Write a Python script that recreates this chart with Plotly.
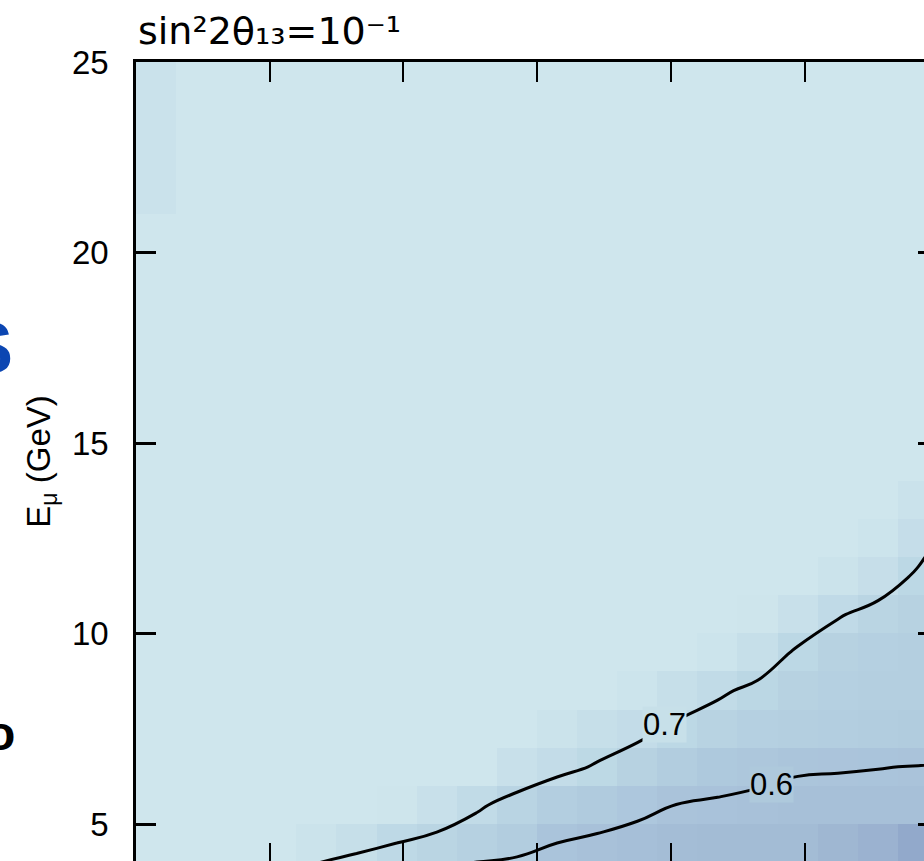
import plotly.graph_objects as go

# ---- data ----
# bin centres: x bins of width 0.3 (axis units per major tick = 1), y bins of 1 GeV
x_centers = [0.15, 0.45, 0.75, 1.05, 1.35, 1.65, 1.95, 2.25, 2.55, 2.85, 3.15,
             3.45, 3.75, 4.05, 4.35, 4.65, 4.95, 5.25, 5.55, 5.85, 6.15]
y_centers = [3.5, 4.5, 5.5, 6.5, 7.5, 8.5, 9.5, 10.5, 11.5, 12.5, 13.5,
             14.5, 15.5, 16.5, 17.5, 18.5, 19.5, 20.5, 21.5, 22.5, 23.5, 24.5]

B = 0.80
row_3  = [0.76, 0.74, 0.71, 0.69, 0.64, 0.595, 0.57, 0.55, 0.54, 0.53, 0.52, 0.51, 0.50, 0.50, 0.50, 0.50, 0.50, 0.49, 0.48, 0.46, 0.45]
row_4  = [B, B, B, B, 0.77, 0.74, 0.70, 0.68, 0.66, 0.64, 0.60, 0.59, 0.58, 0.565, 0.56, 0.56, 0.56, 0.54, 0.52, 0.48, 0.46]
row_5  = [B, B, B, B, B, B, 0.79, 0.75, 0.71, 0.675, 0.645, 0.63, 0.615, 0.599, 0.595, 0.59, 0.585, 0.585, 0.585, 0.585, 0.58]
row_6  = [B, B, B, B, B, B, B, B, B, 0.75, 0.72, 0.694, 0.665, 0.64, 0.62, 0.613, 0.605, 0.603, 0.601, 0.599, 0.595]
row_7  = [B, B, B, B, B, B, B, B, B, B, 0.77, 0.74, 0.72, 0.688, 0.67, 0.655, 0.65, 0.645, 0.64, 0.635, 0.63]
row_8  = [B, B, B, B, B, B, B, B, B, B, B, B, 0.78, 0.74, 0.71, 0.685, 0.665, 0.655, 0.65, 0.65, 0.645]
row_9  = [B, B, B, B, B, B, B, B, B, B, B, B, B, B, 0.78, 0.74, 0.69, 0.665, 0.655, 0.65, 0.645]
row_10 = [B, B, B, B, B, B, B, B, B, B, B, B, B, B, B, 0.79, 0.75, 0.705, 0.68, 0.665, 0.655]
row_11 = [B, B, B, B, B, B, B, B, B, B, B, B, B, B, B, B, B, 0.77, 0.735, 0.69, 0.67]
row_12 = [B, B, B, B, B, B, B, B, B, B, B, B, B, B, B, B, B, B, 0.78, 0.73, 0.67]
row_13 = [B, B, B, B, B, B, B, B, B, B, B, B, B, B, B, B, B, B, B, 0.76, 0.72]
row_14 = [B, B, B, B, B, B, B, B, B, B, B, B, B, B, B, B, B, B, B, B, 0.75]
row_plain = [B] * 21
row_top = [0.76] + [B] * 20

z = [row_3, row_4, row_5, row_6, row_7, row_8, row_9, row_10, row_11, row_12,
     row_13, row_14, row_plain, row_plain, row_plain, row_plain, row_plain,
     row_plain, row_top, row_top, row_top, row_top]

contour_levels = [0.6, 0.7]
contour_label_text = ["0.6", "0.7"]
contour_label_x = [4.75, 3.95]
contour_label_y = [6.05, 7.60]
contour_label_bg = ["#aec9dc", "#c7e0e9"]

y_tick_vals = [5, 10, 15, 20, 25]
x_tick_vals = [0, 1, 2, 3, 4, 5, 6]

colorscale = [
    [0.0, "#8ea5c9"],
    [0.0857, "#92a9cb"],
    [0.2, "#9bb2d0"],
    [0.3143, "#a3bcd5"],
    [0.4, "#a8c1d9"],
    [0.4571, "#acc6dc"],
    [0.5143, "#b0cbde"],
    [0.5714, "#b4cfe0"],
    [0.6286, "#b8d3e2"],
    [0.6857, "#bcd8e5"],
    [0.7714, "#c3dce8"],
    [0.8571, "#c8e0ea"],
    [0.9143, "#cbe3eb"],
    [1.0, "#cfe6ed"],
]

W, H = 924, 861
L, T = 136, 62
px_per_x = 133.7
px_per_y = 38.1
x_range = [0, (W - L) / px_per_x]
y_range = [25 - (H - T) / px_per_y, 25]

fig = go.Figure()
fig.add_trace(go.Heatmap(
    x=x_centers, y=y_centers, z=z,
    colorscale=colorscale, zmin=0.45, zmax=0.80,
    showscale=False, hoverinfo="skip",
))
fig.add_trace(go.Contour(
    x=x_centers, y=y_centers, z=z,
    xaxis="x2", yaxis="y2",
    contours=dict(coloring="none", start=contour_levels[0], end=contour_levels[-1],
                  size=0.1, showlabels=False),
    line=dict(color="black", width=3, smoothing=1.3),
    showscale=False, hoverinfo="skip",
))

label_font = dict(family="Liberation Sans, Arial", size=31, color="black")
annotations = []
for t, lx, ly, bg in zip(contour_label_text, contour_label_x, contour_label_y, contour_label_bg):
    annotations.append(dict(text=t, x=lx, y=ly, xref="x2", yref="y2", showarrow=False,
                            font=label_font, bgcolor=bg, borderpad=0,
                            xanchor="center", yanchor="middle"))

tickfont = dict(family="Liberation Sans, Arial", size=33, color="black")
fig.update_layout(
    width=W, height=H,
    margin=dict(l=L, r=0, t=T, b=0),
    paper_bgcolor="white", plot_bgcolor="#cfe6ed",
    showlegend=False,
    xaxis=dict(range=x_range, tickvals=x_tick_vals, ticks="inside", ticklen=18,
               tickwidth=2, tickcolor="black", showticklabels=False,
               showline=False, showgrid=False, zeroline=False),
    xaxis2=dict(range=x_range, overlaying="x", side="top", tickvals=x_tick_vals,
                ticks="inside", ticklen=20, tickwidth=2, tickcolor="black",
                showticklabels=False, showline=True, linewidth=2.5, linecolor="black",
                showgrid=False, zeroline=False),
    yaxis=dict(range=y_range, tickvals=y_tick_vals, ticks="inside", ticklen=20,
               tickwidth=2.5, tickcolor="black", showline=True, linewidth=2.5,
               linecolor="black", showgrid=False, zeroline=False,
               tickfont=tickfont, ticklabelstandoff=18,
               title=dict(text="E<sub>μ</sub> (GeV)", standoff=12,
                          font=dict(family="Liberation Sans, Arial", size=33, color="black"))),
    yaxis2=dict(range=y_range, overlaying="y", side="right", tickvals=y_tick_vals,
                ticks="inside", ticklen=6, tickwidth=2.5, tickcolor="black",
                showticklabels=False, showline=False, showgrid=False, zeroline=False),
    annotations=annotations + [
        dict(text="sin²2θ₁₃=10⁻¹", xref="paper", yref="paper", x=0, y=1 + 31 / (H - T),
             xanchor="left", yanchor="middle", showarrow=False,
             font=dict(family="DejaVu Sans", size=38, color="black")),
        dict(text="<b>S</b>", xref="paper", yref="paper", x=(15 - L) / (W - L),
             y=1 - (348 - T) / (H - T), xanchor="right", yanchor="middle", showarrow=False,
             font=dict(family="Liberation Sans, Arial", size=72, color="#0c46b2")),
        dict(text="<b>o</b>", xref="paper", yref="paper", x=(17 - L) / (W - L),
             y=1 - (733 - T) / (H - T), xanchor="right", yanchor="middle", showarrow=False,
             font=dict(family="Liberation Sans, Arial", size=48, color="black")),
    ],
)

fig.write_html(
    "out.html",
    config={"displayModeBar": False},
    post_script="document.body.style.margin='0';document.body.style.padding='0';"
                "document.documentElement.style.overflow='hidden';"
                "document.body.style.overflow='hidden';",
)
